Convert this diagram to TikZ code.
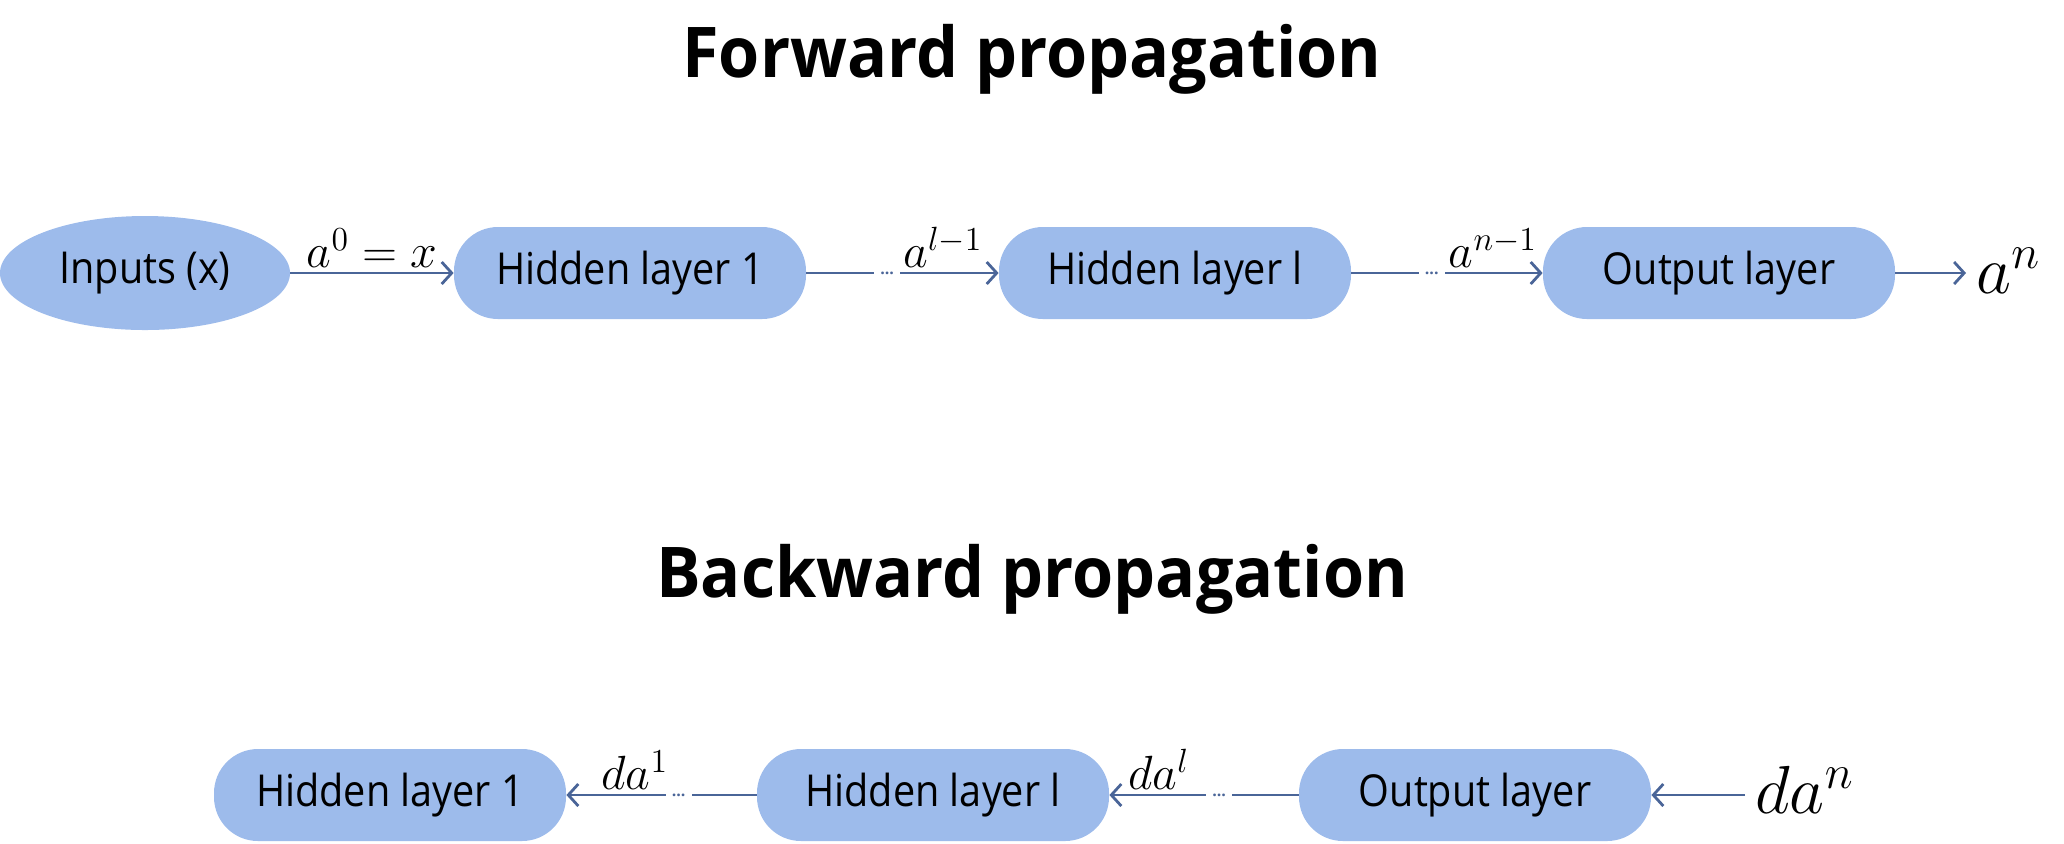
\documentclass[tikz,border=0pt]{standalone}
\usepackage{fix-cm}
\usepackage{fontspec}
\setmainfont{Open Sans}
\newfontfamily\boxfont[FakeStretch=0.9]{Open Sans}
\newfontfamily\headfont[FakeStretch=0.95]{Open Sans}
\usetikzlibrary{shapes.geometric,arrows.meta}
\definecolor{layerfill}{RGB}{157,187,235}
\definecolor{flowline}{RGB}{74,101,152}

\begin{document}
\begin{tikzpicture}[x=0.5pt, y=-0.5pt,
  layer/.style={fill=layerfill, rounded corners=22pt, minimum width=176pt, minimum height=46pt, inner sep=0pt, font=\boxfont\fontsize{22}{26}\selectfont},
  inbox/.style={ellipse, fill=layerfill, minimum width=145pt, minimum height=57pt, inner sep=0pt, font=\boxfont\fontsize{22}{26}\selectfont},
  title/.style={font=\headfont\bfseries\fontsize{35}{42}\selectfont},
  flow/.style={draw=flowline, line width=1.4pt, -{Straight Barb[length=5pt,width=11pt]}},
  gap/.style={fill=white, inner sep=0pt, minimum width=13pt, minimum height=6pt, text=flowline, font=\bfseries\fontsize{8}{8}\selectfont},
  lbl/.style={inner sep=2pt, font=\fontsize{24}{28}\selectfont},
  biglbl/.style={inner xsep=5pt, inner ysep=0pt, font=\fontsize{34}{40}\selectfont}]

\useasboundingbox (0,0) rectangle (2064,843);

% forward pass
\node[title] (ftitle) at (1032,59) {Forward propagation};
\node[inbox] (inp) at (145,273) {Inputs (x)};
\node[layer] (fh1) at (630,273) {Hidden layer 1};
\node[layer] (fhl) at (1175,273) {Hidden layer l};
\node[layer] (fout) at (1719,273) {Output layer};
\node[biglbl, anchor=base west] (an) at (1966,293) {$a^n$};

\draw[flow] (inp) -- node[lbl, above] {$a^0 = x$} (fh1);
\draw[flow] (fh1) -- node[gap, pos=0.42] {...} node[lbl, above, pos=0.71] {$a^{l-1}$} (fhl);
\draw[flow] (fhl) -- node[gap, pos=0.42] {...} node[lbl, above, pos=0.74] {$a^{n-1}$} (fout);
\draw[flow] (fout) -- (fout -| an.west);

% backward pass
\node[title] (btitle) at (1032,579) {Backward propagation};
\node[layer] (bh1) at (390,795) {Hidden layer 1};
\node[layer] (bhl) at (933,795) {Hidden layer l};
\node[layer] (bout) at (1475,795) {Output layer};
\node[biglbl, anchor=base west] (dan) at (1745,813) {$da^n$};

\draw[flow] (bhl) -- node[gap, pos=0.41] {...} node[lbl, above, pos=0.64] {$da^1$} (bh1);
\draw[flow] (bout) -- node[gap, pos=0.42] {...} node[lbl, above, pos=0.74] {$da^l$} (bhl);
\draw[flow] (bout -| dan.west) -- (bout);

\end{tikzpicture}
\end{document}
